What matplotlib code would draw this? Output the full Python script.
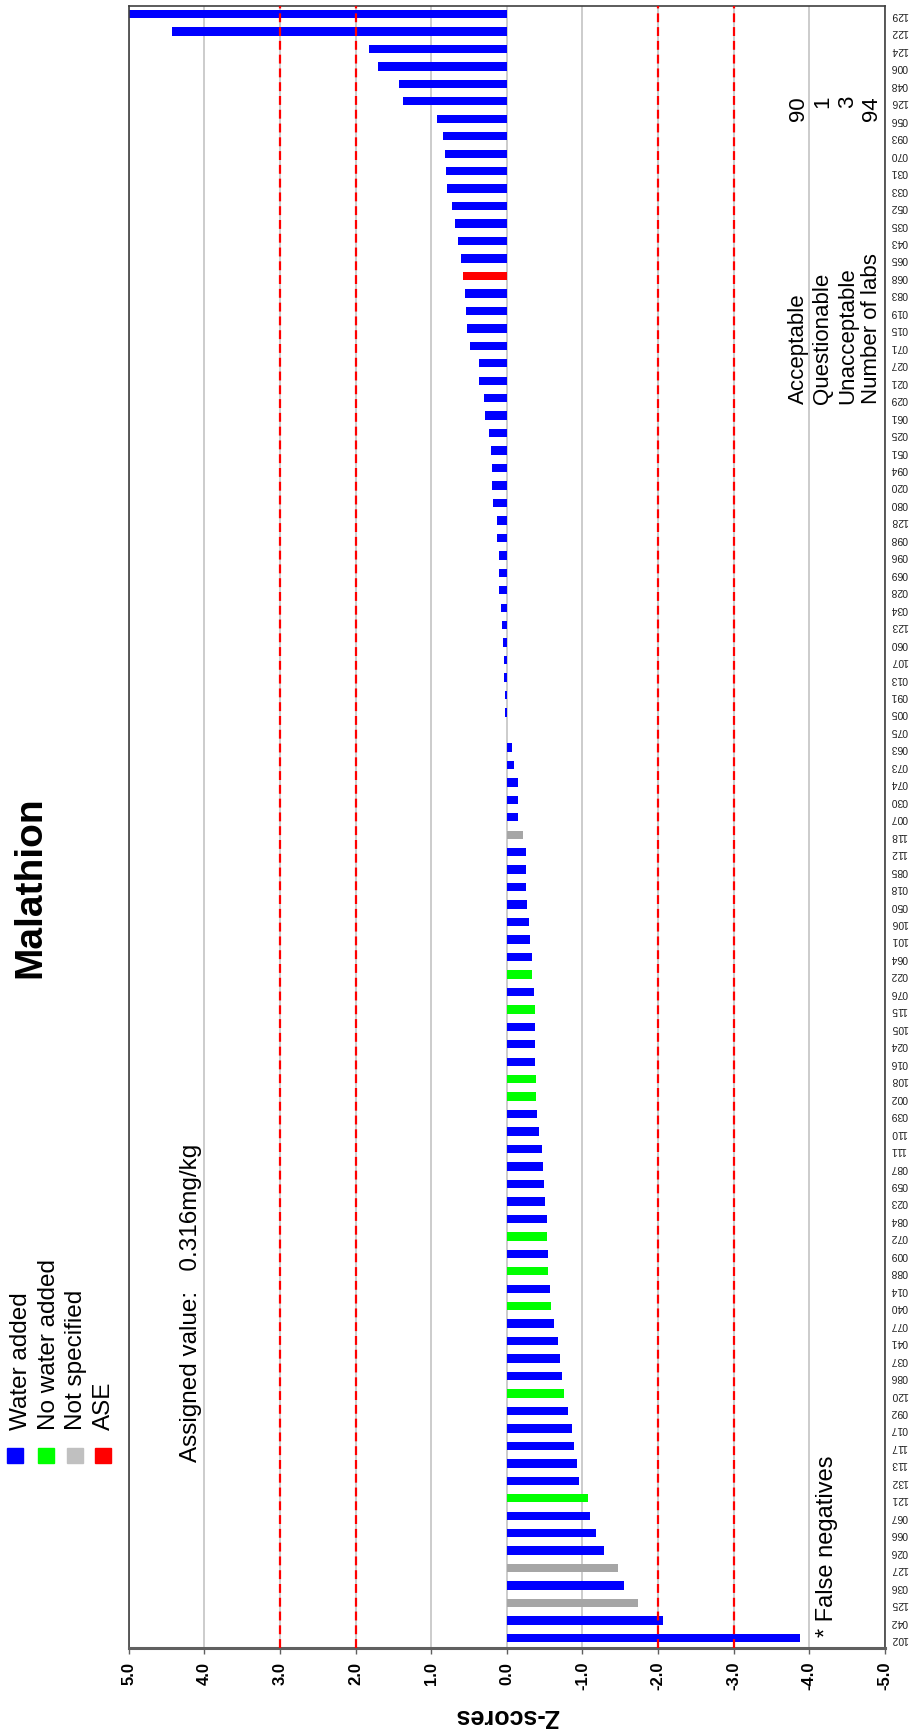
import numpy as np
import matplotlib
matplotlib.use("Agg")
import matplotlib.pyplot as plt
from matplotlib.patches import Rectangle

plt.rcParams['font.family'] = ['Liberation Sans', 'DejaVu Sans']
plt.rcParams['axes.unicode_minus'] = False

# lab codes, top of the picture to bottom
labs = ["129", "122", "124", "006", "048", "126", "056", "093", "070", "031",
        "033", "052", "035", "043", "065", "068", "083", "019", "015", "071",
        "027", "021", "029", "061", "025", "051", "094", "020", "080", "128",
        "098", "096", "069", "028", "034", "123", "060", "107", "013", "091",
        "005", "075", "063", "073", "074", "030", "007", "118", "112", "085",
        "018", "050", "106", "101", "064", "022", "076", "115", "105", "024",
        "016", "108", "002", "039", "110", "111", "087", "059", "023", "084",
        "072", "009", "088", "014", "040", "077", "041", "037", "086", "120",
        "092", "017", "117", "113", "132", "121", "067", "066", "026", "127",
        "036", "125", "042", "102"]

zscores = [5.0, 4.43, 1.82, 1.70, 1.43, 1.37, 0.93, 0.85, 0.82, 0.80,
           0.79, 0.73, 0.69, 0.64, 0.61, 0.58, 0.55, 0.54, 0.53, 0.49,
           0.37, 0.37, 0.30, 0.29, 0.24, 0.21, 0.19, 0.19, 0.18, 0.13,
           0.13, 0.11, 0.11, 0.11, 0.08, 0.07, 0.05, 0.035, 0.035, 0.02,
           0.02, 0.0, -0.07, -0.09, -0.15, -0.15, -0.15, -0.22, -0.25, -0.25,
           -0.25, -0.26, -0.29, -0.31, -0.33, -0.33, -0.36, -0.37, -0.37, -0.37,
           -0.37, -0.39, -0.39, -0.40, -0.42, -0.47, -0.48, -0.49, -0.51, -0.53,
           -0.53, -0.54, -0.55, -0.57, -0.59, -0.62, -0.67, -0.70, -0.73, -0.76,
           -0.81, -0.855, -0.885, -0.93, -0.96, -1.07, -1.10, -1.185, -1.28, -1.47,
           -1.545, -1.74, -2.06, -3.875]

# W = water added, N = no water added, U = not specified, A = ASE
groups = ["W"] * 94
for code in ["022", "115", "108", "002", "072", "088", "040", "120", "121"]:
    groups[labs.index(code)] = "N"
for code in ["118", "127", "125"]:
    groups[labs.index(code)] = "U"
groups[labs.index("068")] = "A"

group_colors = {"W": "#0000FF", "N": "#00FF00", "U": "#A6A6A6", "A": "#FF0000"}
legend_names = ["Water added", "No water added", "Not specified", "ASE"]
legend_colors = ["#0000FF", "#00FF00", "#C0C0C0", "#FF0000"]

xticks = [5, 4, 3, 2, 1, 0, -1, -2, -3, -4, -5]
xticklabels = ["5.0", "4.0", "3.0", "2.0", "1.0", "0.0", "-1.0", "-2.0", "-3.0", "-4.0", "-5.0"]
limits = [3, 2, -2, -3]

stat_names = ["Acceptable", "Questionable", "Unacceptable", "Number of labs"]
stat_values = ["90", "1", "3", "94"]

W, H = 918, 1735
fig = plt.figure(figsize=(W / 100, H / 100), dpi=100)

def fx(x):
    return x / W

def fy(y):
    return 1 - y / H

ax = fig.add_axes([fx(128.7), fy(1648), fx(885) - fx(128.7), fy(5.7) - fy(1648)])

n = len(labs)
pos = np.arange(n)[::-1]
ax.barh(pos, zscores, height=0.48, color=[group_colors[g] for g in groups], zorder=2)

ax.set_xlim(5, -5)
ax.set_ylim(-0.573, n - 1 + 0.475)

for v in xticks:
    ax.axvline(v, color="#C8C8C8", lw=1.3, zorder=1)
for v in limits:
    ax.axvline(v, color="#FF0000", lw=1.6, dashes=(4, 2.2), zorder=3)

ax.set_xticks(xticks)
ax.set_xticklabels(xticklabels, rotation=90, fontweight="bold", fontsize=12)
ax.tick_params(axis="x", direction="out", length=4, width=1, color="#606060", pad=6)

ax.yaxis.tick_right()
ax.set_yticks(pos)
ax.set_yticklabels(labs, rotation=180, fontsize=7.5, color="#202020")
ax.tick_params(axis="y", length=0, pad=4)

for side in ["left", "top", "right"]:
    ax.spines[side].set_color("#404040")
    ax.spines[side].set_linewidth(1.2)
ax.spines["bottom"].set_color("#606060")
ax.spines["bottom"].set_linewidth(2.2)

# title and notes, drawn the same way as the turned page
fig.text(fx(40), fy(978), "Malathion", rotation=90, rotation_mode="anchor",
         ha="left", va="baseline", fontsize=28, fontweight="bold")
fig.text(fx(507), fy(1716), "Z-scores", rotation=180, ha="center", va="center",
         fontsize=18, fontweight="bold")
fig.text(fx(197), fy(1462), "Assigned value:   0.316mg/kg", rotation=90,
         rotation_mode="anchor", ha="left", va="baseline", fontsize=17.5)
fig.text(fx(833), fy(1637), "* False negatives", rotation=90,
         rotation_mode="anchor", ha="left", va="baseline", fontsize=17)

# legend
sq_x = [7, 38, 67, 95]
txt_x = [27, 55, 82, 110]
for name, col, sx, tx in zip(legend_names, legend_colors, sq_x, txt_x):
    fig.add_artist(Rectangle((fx(sx), fy(1463)), 16 / W, 15 / H,
                             transform=fig.transFigure, color=col))
    fig.text(fx(tx), fy(1430), name, rotation=90, rotation_mode="anchor",
             ha="left", va="baseline", fontsize=17.5)

# counts
stat_x = [804, 828.5, 853, 877]
for name, val, sx in zip(stat_names, stat_values, stat_x):
    fig.text(fx(sx), fy(404), name, rotation=90, rotation_mode="anchor",
             ha="left", va="baseline", fontsize=16)
    fig.text(fx(sx), fy(96), val, rotation=90, rotation_mode="anchor",
             ha="right", va="baseline", fontsize=16)

fig.savefig("out.png", dpi=100)
